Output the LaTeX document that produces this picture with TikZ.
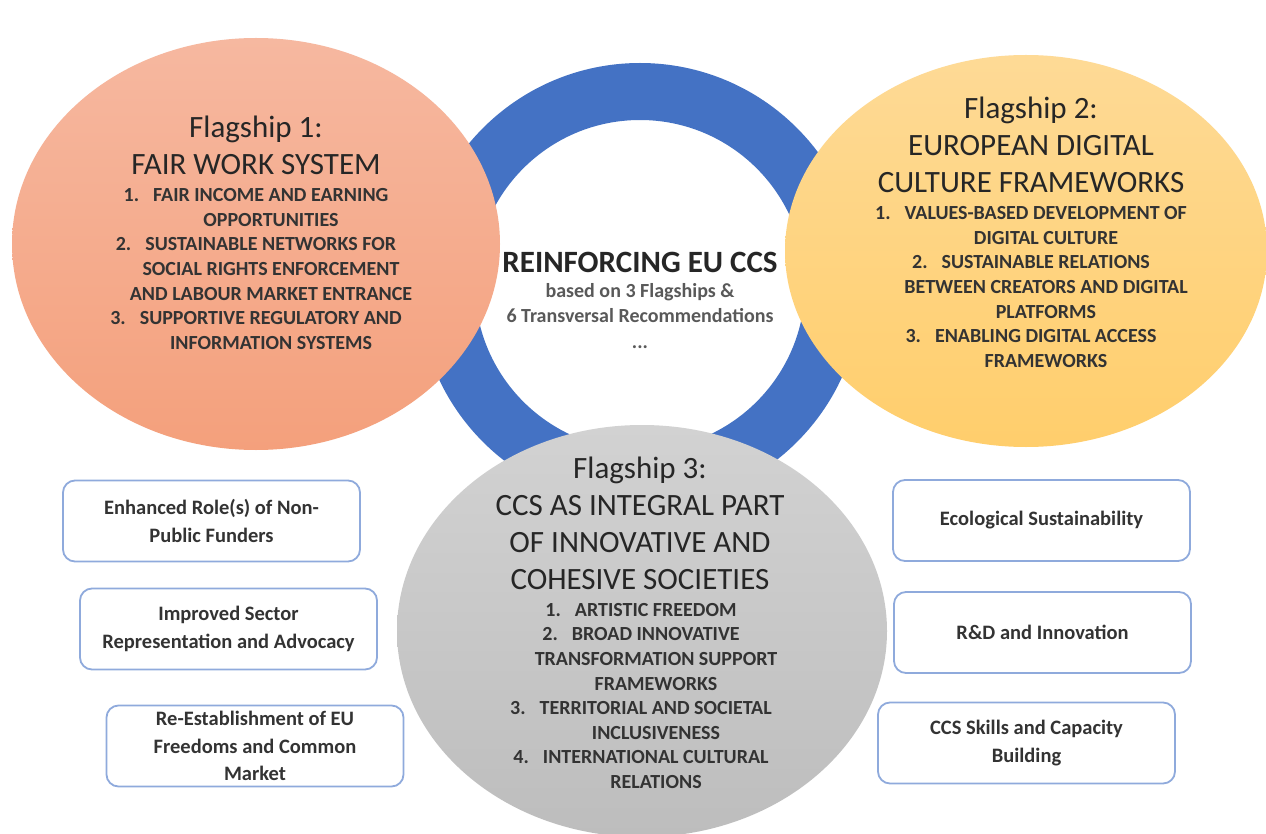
\documentclass[tikz,border=0pt]{standalone}
\usepackage{fontspec}
\setmainfont{Carlito}
\usepackage{xcolor}
\usetikzlibrary{shapes.geometric, positioning}

\definecolor{ringblue}{HTML}{4472C4}
\definecolor{salmontop}{HTML}{F6B8A0}
\definecolor{salmonbot}{HTML}{F4A07C}
\definecolor{yellowtop}{HTML}{FEDA96}
\definecolor{yellowbot}{HTML}{FFCE6C}
\definecolor{greytop}{HTML}{D2D2D2}
\definecolor{greybot}{HTML}{BDBDBD}
\definecolor{boxblue}{HTML}{8FAADC}
\definecolor{titlegray}{HTML}{262626}
\definecolor{itemgray}{HTML}{333333}
\definecolor{subgray}{HTML}{595959}

\newcommand{\cont}{\hspace*{30pt}}

\begin{document}
\begin{tikzpicture}[x=1pt, y=-1pt,
        flag/.style={ellipse, inner sep=0pt},
        headtext/.style={align=center, text=titlegray, font=\fontsize{31}{37}\selectfont},
        itemtext/.style={align=center, text=itemgray, font=\bfseries\fontsize{20}{24.6}\selectfont},
        recbox/.style={draw=boxblue, line width=1.8pt, rounded corners=12pt, fill=white,
            minimum width=297pt, minimum height=81pt, align=center, text=itemgray,
            font=\bfseries\fontsize{20.5}{27.5}\selectfont}]
    \useasboundingbox[fill=white] (0,0) rectangle (1266,834);

    % ring in the middle
    \node[circle, draw=ringblue, line width=57pt, minimum size=387pt, inner sep=0pt] (ring) at (640,285) {};
    \node[font=\bfseries\fontsize{31}{34}\selectfont, text=titlegray] (core) at (640,262) {REINFORCING EU CCS};
    \node[align=center, text=subgray, font=\bfseries\fontsize{20}{25.5}\selectfont] (coresub) at (640,316) {based on 3 Flagships \&\\6 Transversal Recommendations\\...};

    % flagships
    \node[flag, minimum width=488pt, minimum height=412pt, top color=salmontop, bottom color=salmonbot] (fs1) at (256,244) {};
    \node[flag, minimum width=482pt, minimum height=392pt, top color=yellowtop, bottom color=yellowbot] (fs2) at (1026,251) {};
    \node[flag, minimum width=490pt, minimum height=412pt, top color=greytop, bottom color=greybot] (fs3) at (642,631) {};

    \node[headtext] (fs1head) at (256,145) {Flagship 1:\\FAIR WORK SYSTEM};
    \node[itemtext] (fs1list) at (256,269) {1.\hspace{14pt}FAIR INCOME AND EARNING\\\cont OPPORTUNITIES\\2.\hspace{14pt}SUSTAINABLE NETWORKS FOR\\\cont SOCIAL RIGHTS ENFORCEMENT\\\cont AND LABOUR MARKET ENTRANCE\\3.\hspace{14pt}SUPPORTIVE REGULATORY AND\\\cont INFORMATION SYSTEMS};

    \node[headtext] (fs2head) at (1031,145) {Flagship 2:\\EUROPEAN DIGITAL\\CULTURE FRAMEWORKS};
    \node[itemtext] (fs2list) at (1031,287) {1.\hspace{14pt}VALUES-BASED DEVELOPMENT OF\\\cont DIGITAL CULTURE\\2.\hspace{14pt}SUSTAINABLE RELATIONS\\\cont BETWEEN CREATORS AND DIGITAL\\\cont PLATFORMS\\3.\hspace{14pt}ENABLING DIGITAL ACCESS\\\cont FRAMEWORKS};

    \node[headtext] (fs3head) at (640,523) {Flagship 3:\\CCS AS INTEGRAL PART\\OF INNOVATIVE AND\\COHESIVE SOCIETIES};
    \node[itemtext] (fs3list) at (641,696) {1.\hspace{14pt}ARTISTIC FREEDOM\\2.\hspace{14pt}BROAD INNOVATIVE\\\cont TRANSFORMATION SUPPORT\\\cont FRAMEWORKS\\3.\hspace{14pt}TERRITORIAL AND SOCIETAL\\\cont INCLUSIVENESS\\4.\hspace{14pt}INTERNATIONAL CULTURAL\\\cont RELATIONS};

    % transversal recommendations
    \node[recbox] (funders) at (211.5,521) {Enhanced Role(s) of Non-\\Public Funders};
    \node[recbox] (advocacy) at (228.5,629) {Improved Sector\\Representation and Advocacy};
    \node[recbox] (market) at (255,746) {Re-Establishment of EU\\Freedoms and Common\\Market};
    \node[recbox] (ecology) at (1041.5,520.5) {Ecological Sustainability};
    \node[recbox] (innovation) at (1042.5,632.5) {R\&D and Innovation};
    \node[recbox] (skills) at (1026.5,743) {CCS Skills and Capacity\\Building};
\end{tikzpicture}
\end{document}
